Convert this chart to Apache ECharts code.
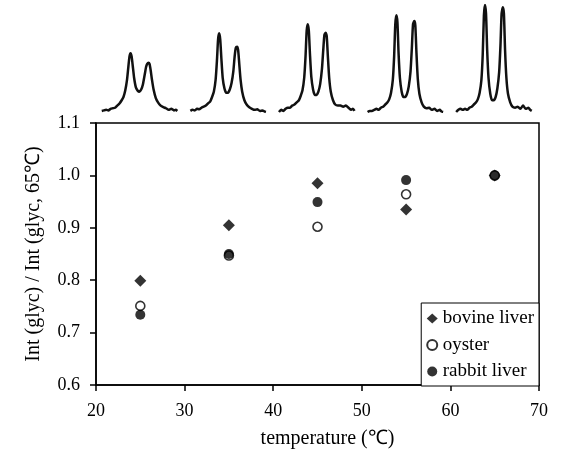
<!DOCTYPE html>
<html>
<head>
<meta charset="utf-8">
<script src="https://cdn.jsdelivr.net/npm/echarts@6/dist/echarts.min.js"></script>
<style>html,body{margin:0;padding:0;background:#fff}#c{width:563px;height:454px}</style>
</head>
<body>
<div id="c"></div>
<script>
// Scatter data
var temperatures = [25, 35, 45, 55, 65];
var bovineLiver = [0.799, 0.905, 0.985, 0.935, 1.0];
var oyster = [0.751, 0.847, 0.902, 0.964, 1.0];
var rabbitLiver = [0.734, 0.850, 0.949, 0.991, 1.0];
var xTicks = [20, 30, 40, 50, 60, 70];
var yTicks = [0.6, 0.7, 0.8, 0.9, 1.0, 1.1];

// Inset spectra (shift relative to each temperature, relative intensity)
var spectrumShift = [-4.35, -4.1, -3.85, -3.6, -3.35, -3.1, -2.85, -2.6, -2.35, -2.1, -1.9, -1.7, -1.5, -1.35, -1.22, -1.1, -0.98, -0.85, -0.7, -0.5, -0.3, -0.1, 0.1, 0.3, 0.5, 0.65, 0.78, 0.92, 1.04, 1.17, 1.32, 1.5, 1.75, 2.0, 2.3, 2.6, 2.9, 3.2, 3.5, 3.8, 4.0, 4.18];
var spectrum25 = [0.01, 0.015, 0.02, 0.015, 0.03, 0.035, 0.04, 0.06, 0.08, 0.11, 0.14, 0.20, 0.30, 0.42, 0.52, 0.55, 0.52, 0.43, 0.32, 0.23, 0.20, 0.19, 0.21, 0.26, 0.35, 0.42, 0.45, 0.46, 0.45, 0.39, 0.30, 0.21, 0.13, 0.09, 0.06, 0.045, 0.035, 0.02, 0.03, 0.015, 0.02, 0.01];
var spectrum35 = [0.01, 0.02, 0.015, 0.03, 0.025, 0.04, 0.05, 0.06, 0.08, 0.10, 0.14, 0.19, 0.30, 0.48, 0.68, 0.735, 0.68, 0.50, 0.32, 0.22, 0.18, 0.18, 0.21, 0.27, 0.38, 0.52, 0.60, 0.61, 0.58, 0.45, 0.30, 0.19, 0.11, 0.07, 0.045, 0.03, 0.02, 0.025, 0.01, 0.015, 0.005, 0.0];
var spectrum45 = [0.0, 0.02, 0.01, 0.03, 0.04, 0.04, 0.06, 0.07, 0.09, 0.11, 0.15, 0.20, 0.32, 0.52, 0.76, 0.82, 0.76, 0.54, 0.33, 0.21, 0.16, 0.16, 0.19, 0.26, 0.40, 0.58, 0.72, 0.74, 0.71, 0.52, 0.32, 0.19, 0.11, 0.07, 0.06, 0.06, 0.05, 0.06, 0.04, 0.02, 0.03, 0.01];
var spectrum55 = [0.0, 0.01, 0.01, 0.02, 0.03, 0.02, 0.04, 0.05, 0.07, 0.09, 0.12, 0.18, 0.30, 0.52, 0.82, 0.905, 0.84, 0.55, 0.32, 0.19, 0.14, 0.14, 0.17, 0.24, 0.38, 0.60, 0.82, 0.85, 0.81, 0.55, 0.31, 0.17, 0.09, 0.05, 0.035, 0.04, 0.02, 0.03, 0.01, 0.02, 0.005, 0.0];
var spectrum65 = [0.0, 0.02, 0.03, 0.02, 0.03, 0.02, 0.04, 0.05, 0.07, 0.09, 0.12, 0.18, 0.30, 0.54, 0.90, 1.0, 0.92, 0.58, 0.32, 0.17, 0.11, 0.11, 0.14, 0.22, 0.37, 0.62, 0.92, 0.98, 0.92, 0.58, 0.32, 0.17, 0.09, 0.05, 0.04, 0.05, 0.03, 0.06, 0.03, 0.04, 0.02, 0.01];
var spectra = [spectrum25, spectrum35, spectrum45, spectrum55, spectrum65];

var FONT = 'Liberation Serif';
var chart = echarts.init(document.getElementById('c'), null, {renderer: 'canvas'});

function pairs(xs, ys) { return xs.map(function (x, i) { return [x, ys[i]]; }); }

var series = [
  {
    name: 'bovine liver', type: 'scatter', xAxisIndex: 0, yAxisIndex: 0,
    symbol: 'diamond', symbolSize: 12,
    itemStyle: {color: '#000'},
    data: pairs(temperatures, bovineLiver), z: 3
  },
  {
    name: 'oyster', type: 'scatter', xAxisIndex: 0, yAxisIndex: 0,
    symbol: 'circle', symbolSize: 9,
    itemStyle: {color: '#fff', borderColor: '#000', borderWidth: 1.6},
    data: pairs(temperatures, oyster), z: 4
  },
  {
    name: 'rabbit liver', type: 'scatter', xAxisIndex: 0, yAxisIndex: 0,
    symbol: 'circle', symbolSize: 10,
    itemStyle: {color: '#000'},
    data: pairs(temperatures, rabbitLiver), z: 5
  }
];

spectra.forEach(function (sp, k) {
  var T = temperatures[k];
  series.push({
    name: 'spectrum ' + T, type: 'line', xAxisIndex: 1, yAxisIndex: 1,
    symbol: 'none', smooth: 0.2, silent: true,
    lineStyle: {color: '#111', width: 2.5},
    data: spectrumShift.map(function (s, i) { return [T + s, sp[i]]; })
  });
});

var option = {
  backgroundColor: '#fff',
  animation: false,
  grid: [
    {left: 96, right: 24, top: 123, bottom: 69, show: true, borderColor: '#000', borderWidth: 1.5, backgroundColor: 'transparent'},
    {left: 96, right: 24, top: 5, bottom: 342}
  ],
  legend: {
    data: ['bovine liver', 'oyster', 'rabbit liver'],
    orient: 'vertical',
    right: 24, top: 303,
    padding: [6, 5, 5, 5],
    itemGap: 7.5,
    itemWidth: 11, itemHeight: 10,
    backgroundColor: '#fff',
    borderColor: '#000', borderWidth: 1,
    textStyle: {fontFamily: FONT, fontSize: 19, color: '#000'},
    selectedMode: false
  },
  xAxis: [
    {
      type: 'value', gridIndex: 0, min: 20, max: 70, interval: 10,
      name: 'temperature (℃)', nameLocation: 'middle', nameGap: 44,
      nameTextStyle: {fontFamily: FONT, fontSize: 20, color: '#000', padding: [0, 0, 0, 20]},
      axisLine: {show: true, lineStyle: {color: '#000', width: 1.5}},
      axisTick: {show: true, inside: false, length: 6, lineStyle: {color: '#000', width: 1.5}},
      axisLabel: {fontFamily: FONT, fontSize: 18, color: '#000', margin: 17},
      splitLine: {show: false}
    },
    {
      type: 'value', gridIndex: 1, min: 20, max: 70, show: false
    }
  ],
  yAxis: [
    {
      type: 'value', gridIndex: 0, min: 0.6, max: 1.1, interval: 0.1,
      name: 'Int (glyc) / Int (glyc, 65℃)', nameLocation: 'middle', nameGap: 52,
      nameTextStyle: {fontFamily: FONT, fontSize: 20, color: '#000'},
      axisLine: {show: true, lineStyle: {color: '#000', width: 1.5}},
      axisTick: {show: true, inside: false, length: 6, lineStyle: {color: '#000', width: 1.5}},
      axisLabel: {fontFamily: FONT, fontSize: 18, color: '#000', margin: 16,
        formatter: function (v) { return v.toFixed(1); }},
      splitLine: {show: false}
    },
    {
      type: 'value', gridIndex: 1, min: 0, max: 1, show: false
    }
  ],
  series: series
};
chart.setOption(option);
</script>
</body>
</html>
